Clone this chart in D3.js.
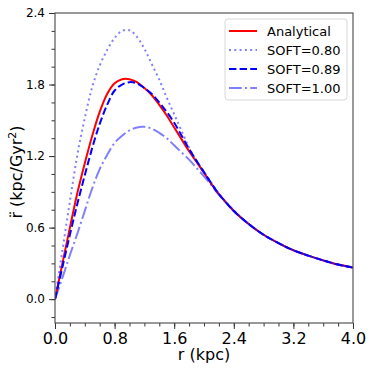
<!DOCTYPE html>
<html>
<head>
<meta charset="utf-8">
<script src="https://cdn.jsdelivr.net/npm/d3@7"></script>
<style>
  body { margin: 0; background: #fff; }
  svg { font-family: "DejaVu Sans", sans-serif; }
</style>
</head>
<body>
<div id="chart"></div>
<script>
// values
var radius = [0, 0.1, 0.2, 0.3, 0.4, 0.5, 0.6, 0.7, 0.8, 0.9, 1.0, 1.1, 1.2, 1.3, 1.4, 1.5, 1.6, 1.7, 1.8, 1.9, 2.0,
              2.1, 2.2, 2.4, 2.6, 2.8, 3.0, 3.2, 3.4, 3.6, 3.8, 4.0];
var analytical = [0, 0.30, 0.60, 0.89, 1.14, 1.37, 1.57, 1.72, 1.81, 1.845, 1.845, 1.82, 1.77, 1.71, 1.63, 1.54, 1.44, 1.34, 1.24, 1.15, 1.06,
                  0.965, 0.88, 0.74, 0.63, 0.54, 0.47, 0.41, 0.365, 0.325, 0.29, 0.265];
var soft080 = [0, 0.41, 0.82, 1.21, 1.52, 1.78, 1.96, 2.09, 2.19, 2.25, 2.255, 2.20, 2.10, 1.97, 1.84, 1.69, 1.55, 1.41, 1.27, 1.16, 1.07,
               0.975, 0.885, 0.745, 0.63, 0.54, 0.47, 0.41, 0.365, 0.325, 0.29, 0.265];
var soft089 = [0, 0.27, 0.54, 0.80, 1.04, 1.27, 1.47, 1.63, 1.75, 1.80, 1.82, 1.81, 1.77, 1.72, 1.65, 1.57, 1.48, 1.37, 1.26, 1.16, 1.065,
               0.97, 0.882, 0.74, 0.63, 0.54, 0.47, 0.41, 0.365, 0.325, 0.29, 0.265];
var soft100 = [0, 0.18, 0.37, 0.55, 0.74, 0.93, 1.09, 1.21, 1.31, 1.37, 1.415, 1.44, 1.445, 1.43, 1.395, 1.35, 1.29, 1.23, 1.17, 1.10, 1.03,
               0.955, 0.875, 0.74, 0.63, 0.54, 0.47, 0.41, 0.365, 0.325, 0.29, 0.265];

var xTicks = [0.0, 0.8, 1.6, 2.4, 3.2, 4.0];
var yTicks = [0.0, 0.6, 1.2, 1.8, 2.4];

var series = [
    { label: "Analytical", values: analytical, color: "red", opacity: 1, dash: null },
    { label: "SOFT=0.80", values: soft080, color: "blue", opacity: 0.5, dash: "2,3.3" },
    { label: "SOFT=0.89", values: soft089, color: "blue", opacity: 1, dash: "7.4,3.2" },
    { label: "SOFT=1.00", values: soft100, color: "blue", opacity: 0.5, dash: "12.8,3.2,2,3.2" }
];

var svgWidth = 375;
var svgHeight = 375;
var margin = { top: 13, right: 22, bottom: 52, left: 55 };
var chartWidth = svgWidth - margin.left - margin.right;
var chartHeight = svgHeight - margin.top - margin.bottom;

var svg = d3.select("#chart")
    .append("svg")
    .attr("width", svgWidth)
    .attr("height", svgHeight);

var chartGroup = svg.append("g")
    .attr("transform", `translate(${margin.left}, ${margin.top})`);

var xScale = d3.scaleLinear().domain([0, 4]).range([0, chartWidth]);
var yScale = d3.scaleLinear().domain([-0.2, 2.4]).range([chartHeight, 0]);

// minor ticks
chartGroup.append("g")
    .attr("transform", `translate(0, ${chartHeight})`)
    .call(d3.axisBottom(xScale).tickValues(d3.range(0, 4.01, 0.2)).tickSize(3.5).tickFormat(""))
    .call(g => g.select(".domain").remove());
chartGroup.append("g")
    .call(d3.axisLeft(yScale).tickValues(d3.range(-0.15, 2.41, 0.15)).tickSize(3.5).tickFormat(""))
    .call(g => g.select(".domain").remove());

// major ticks
var bottomAxis = d3.axisBottom(xScale).tickValues(xTicks).tickSize(6).tickPadding(4).tickFormat(d3.format(".1f"));
var leftAxis = d3.axisLeft(yScale).tickValues(yTicks).tickSize(6).tickPadding(4).tickFormat(d3.format(".1f"));

chartGroup.append("g")
    .attr("transform", `translate(0, ${chartHeight})`)
    .call(bottomAxis)
    .call(g => g.select(".domain").remove())
    .selectAll("text")
    .attr("font-size", "16px")
    .attr("font-family", "DejaVu Sans");
chartGroup.append("g")
    .call(leftAxis)
    .call(g => g.select(".domain").remove())
    .selectAll("text")
    .attr("font-size", "12px")
    .attr("font-family", "DejaVu Sans");

svg.selectAll(".tick line").attr("stroke", "#333").attr("stroke-width", 1);

var line = d3.line()
    .x(function(d, i) { return xScale(radius[i]); })
    .y(function(d) { return yScale(d); })
    .curve(d3.curveCatmullRom.alpha(0.5));

chartGroup.append("clipPath").attr("id", "clip")
    .append("rect").attr("width", chartWidth).attr("height", chartHeight);

chartGroup.append("g")
    .attr("clip-path", "url(#clip)")
    .selectAll("path")
    .data(series)
    .enter()
    .append("path")
    .attr("d", function(d) { return line(d.values); })
    .attr("fill", "none")
    .attr("stroke", function(d) { return d.color; })
    .attr("stroke-opacity", function(d) { return d.opacity; })
    .attr("stroke-width", 2)
    .attr("stroke-dasharray", function(d) { return d.dash; });

// frame
chartGroup.append("rect")
    .attr("width", chartWidth)
    .attr("height", chartHeight)
    .attr("fill", "none")
    .attr("stroke", "#555")
    .attr("stroke-width", 1.2);

// legend
var legend = svg.append("g").attr("transform", "translate(225, 19)");
legend.append("rect")
    .attr("width", 122)
    .attr("height", 81)
    .attr("rx", 3)
    .attr("fill", "#fff")
    .attr("fill-opacity", 0.8)
    .attr("stroke", "#d8d8d8");

var item = legend.selectAll(".item")
    .data(series)
    .enter()
    .append("g")
    .attr("transform", function(d, i) { return `translate(0, ${12 + i * 19})`; });
item.append("line")
    .attr("x1", 4).attr("x2", 32)
    .attr("stroke", function(d) { return d.color; })
    .attr("stroke-opacity", function(d) { return d.opacity; })
    .attr("stroke-width", 2)
    .attr("stroke-dasharray", function(d) { return d.dash; });
item.append("text")
    .attr("x", 42)
    .attr("dy", "0.36em")
    .attr("font-size", "13px")
    .text(function(d) { return d.label; });

// axis labels
svg.append("text")
    .attr("x", margin.left + chartWidth / 2)
    .attr("y", 360)
    .attr("text-anchor", "middle")
    .attr("font-size", "16px")
    .text("r (kpc)");

var yLabel = svg.append("text")
    .attr("transform", "translate(22, 172) rotate(-90)")
    .attr("text-anchor", "middle")
    .attr("font-size", "16px");
yLabel.append("tspan").text("r\u0308 (kpc/Gyr");
yLabel.append("tspan").attr("dy", -6).attr("font-size", "11px").text("2");
yLabel.append("tspan").attr("dy", 6).text(")");
</script>
</body>
</html>
